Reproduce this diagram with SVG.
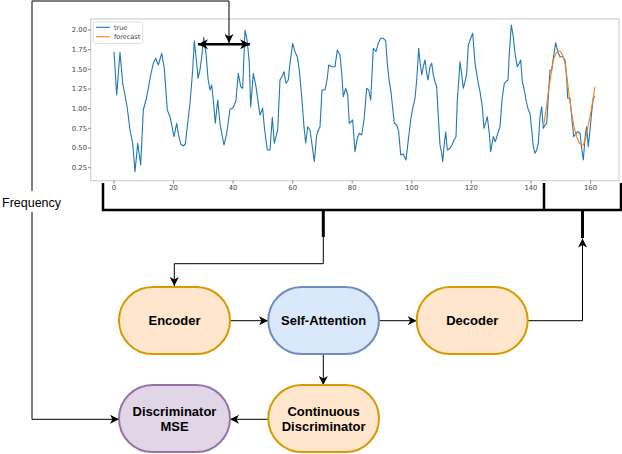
<svg xmlns="http://www.w3.org/2000/svg" width="622" height="454" viewBox="0 0 622 454">
<style>
.tick{font-family:"DejaVu Sans",sans-serif;font-size:6.8px;fill:#444}
.leg{font-family:"DejaVu Sans",sans-serif;font-size:6.5px;fill:#444}
.node{stroke-width:2}
.orange{fill:#ffe6cc;stroke:#d79b00}
.blue{fill:#dae8fc;stroke:#6c8ebf}
.purple{fill:#e1d5e7;stroke:#9673a6}
.lbl{font-family:"Liberation Sans",Arial,sans-serif;font-size:13px;font-weight:bold;fill:#000;text-anchor:middle}
.conn{fill:none;stroke:#000;stroke-width:1}
.brk{fill:none;stroke:#000;stroke-width:2.5}
.tk{stroke:#666;stroke-width:0.8}
</style>
<defs>
<marker id="arr" viewBox="0 0 9 9" markerWidth="9" markerHeight="9" refX="9" refY="4.5" orient="auto" markerUnits="userSpaceOnUse">
<path d="M0,0 L9,4.5 L0,9 L2.5,4.5 z" fill="#000"/>
</marker>
<marker id="arrb" viewBox="0 0 10 10" markerWidth="10" markerHeight="10" refX="10" refY="5" orient="auto-start-reverse" markerUnits="userSpaceOnUse">
<path d="M0,0 L10,5 L0,10 L3,5 z" fill="#000"/>
</marker>
</defs>
<rect width="622" height="454" fill="#fff"/>
<g id="plot">
<rect x="90.7" y="19" width="528.3" height="161.7" fill="#fff" stroke="#c8c8c8" stroke-width="1"/>
<g class="tk">
<line x1="88" y1="30" x2="90.7" y2="30"/><line x1="88" y1="49.67" x2="90.7" y2="49.67"/><line x1="88" y1="69.33" x2="90.7" y2="69.33"/><line x1="88" y1="89" x2="90.7" y2="89"/><line x1="88" y1="108.67" x2="90.7" y2="108.67"/><line x1="88" y1="128.33" x2="90.7" y2="128.33"/><line x1="88" y1="148" x2="90.7" y2="148"/><line x1="88" y1="167.67" x2="90.7" y2="167.67"/>
<line x1="114" y1="180.7" x2="114" y2="183.4"/><line x1="173.6" y1="180.7" x2="173.6" y2="183.4"/><line x1="233.1" y1="180.7" x2="233.1" y2="183.4"/><line x1="292.7" y1="180.7" x2="292.7" y2="183.4"/><line x1="352.2" y1="180.7" x2="352.2" y2="183.4"/><line x1="411.8" y1="180.7" x2="411.8" y2="183.4"/><line x1="471.4" y1="180.7" x2="471.4" y2="183.4"/><line x1="530.9" y1="180.7" x2="530.9" y2="183.4"/><line x1="590.5" y1="180.7" x2="590.5" y2="183.4"/>
</g>
<g class="tick" text-anchor="end">
<text x="87" y="32.4">2.00</text><text x="87" y="52.1">1.75</text><text x="87" y="71.7">1.50</text><text x="87" y="91.4">1.25</text><text x="87" y="111.1">1.00</text><text x="87" y="130.7">0.75</text><text x="87" y="150.4">0.50</text><text x="87" y="170.1">0.25</text>
</g>
<g class="tick" text-anchor="middle">
<text x="114" y="189.8">0</text><text x="173.6" y="189.8">20</text><text x="233.1" y="189.8">40</text><text x="292.7" y="189.8">60</text><text x="352.2" y="189.8">80</text><text x="411.8" y="189.8">100</text><text x="471.4" y="189.8">120</text><text x="530.9" y="189.8">140</text><text x="590.5" y="189.8">160</text>
</g>
<polyline fill="none" stroke="#1f77b4" stroke-width="1.1" stroke-linejoin="round" points="114,51.7 116.7,95 120,52.3 122.7,83.3 125,95 127.3,108.3 130,130 132.7,143.3 135,171.7 137.7,143.3 140.7,165 143.3,110 146,100 148.3,88.3 150.7,75 153.3,63.3 155.7,58.3 158.3,65 161.7,53.3 164.3,68.3 167.3,110 170,116.7 172.7,130 174,136.7 176.7,123.3 178.3,133.3 180.7,144 183.3,146 185.3,144 187.3,126.7 190,103.3 192.7,70 194.3,40.7 196.7,63.3 198,78.3 200,70 201.7,56.7 203.7,37.3 206,53.3 208,78.3 210,90 211.7,85 213.3,100 215.3,123.3 217.7,100 220,123.3 222.3,136.7 224,145 226.7,133.3 230,109.3 232.7,108.3 235,103.3 236,100 238.3,73.3 240.7,86.7 242.7,88.3 245,30 247.3,41.7 249.3,63.3 250.7,106.7 253.3,73.3 256,86.7 258.3,103.3 260,115 262.7,108.3 264.3,126.7 266,140 267.3,150 270,150 272.3,117.3 274.3,143.3 276,136.7 277.7,130 280,80 282.7,75 284,71.7 286,83.3 288.3,80 290,63.3 292.7,43.3 295,51.7 297.3,56.7 299.3,70 301.7,96.7 304,126.7 305.7,143.3 307.7,126.7 310,130 312.3,146.7 314.3,161.7 316.7,135 318.3,130 320,126.7 322,90 325,90 327.3,78.3 328.7,65 331.7,66.7 335,66.7 337.3,50 340,55 341.7,73.3 343.3,96.7 345.7,88.3 347.7,95 349.3,123.3 352.7,120 355,151.7 357.3,138.3 359.3,133.3 361.7,135 364,120 366.7,88.3 368.7,90 370.7,100 373.3,48.3 376,51.7 378.3,43.3 380.7,38.3 383.3,38.3 385.7,40.7 387.3,63.3 389.3,81.7 391,91.7 392.7,108.3 394.3,123.3 396.7,125 398.7,131.7 400.7,155 403.3,154 406,160 408.3,140 410.7,120 412.7,108.3 415,98.3 416.7,80 418.7,48.3 420,61.7 421.7,75 423.3,66.7 425,60 426.7,73.3 428,80 430,66.7 431.7,63.3 433.3,75 435,81.7 436.7,86.7 438.3,116.7 440,145 441.7,153.3 442.7,161.7 444,146.7 445.7,131.7 447.3,150 450,148.3 452,145 454,140 456,136.7 457.3,100 458.7,81.7 460,61.7 462,76.7 463.3,88.3 465,81.7 466.7,73.3 468.3,45 470.7,38.3 472.7,33.3 475,63.3 476.7,73.3 478.3,83.3 480,91.7 482.3,106.7 484,128.3 486,121.7 487.3,116.7 489.3,133.3 490.7,151.7 493.3,136.7 495.3,141.7 497.3,135 500,126.7 502,100 504.3,83.3 506,81.7 508,80 509.3,53.3 511.3,25 513.3,36.7 515,53.3 517.3,66.7 519.3,63.3 520.7,60 522.3,81.7 524.3,90 526,100 528.3,110 530,113.3 531.7,130 533.3,146.7 535,153.3 536.7,150 538.3,143.3 540,116.7 541.7,106.7 543.3,128.3 545,125 546.7,123.3 548.3,96.7 550,70 551.7,70 553.3,58.3 555.7,42.7 557.7,51.7 560,56.7 562.7,56.7 565,60 566.7,78.3 567.7,98.3 570,98.3 571.7,116.7 573.7,136.7 576,133.3 577.7,131.7 580,133.3 581.7,148.3 583.3,160 585.3,135 586.7,126.7 588.3,146.7 590,130 591.7,111.7 593.3,98.3 595,96.7"/>
<polyline fill="none" stroke="#ff7f0e" stroke-width="1.1" stroke-linejoin="round" points="544,123.3 546,110 548.3,91.7 550.7,76.7 553.3,60 556,53.3 558.3,50.7 560.7,51.7 563.3,56.7 565.7,66.7 567.3,80 569.3,96.7 571.7,113.3 574,126.7 576.7,136.7 579.3,143.3 581.7,145 583.3,145 585.7,138.3 588,126.7 590,116.7 592.3,103.3 595,86.7"/>
<g id="legend">
<rect x="93.3" y="22" width="49.4" height="21.3" rx="1.5" fill="#fff" fill-opacity="0.85" stroke="#d4d4d4" stroke-width="0.8"/>
<line x1="96" y1="27.3" x2="110" y2="27.3" stroke="#1f77b4" stroke-width="1.1"/>
<line x1="96" y1="36.7" x2="110" y2="36.7" stroke="#ff7f0e" stroke-width="1.1"/>
<text class="leg" x="114" y="29.6">true</text>
<text class="leg" x="114" y="39">forecast</text>
</g>
</g>
<g id="brackets">
<polyline class="brk" points="103,183 103,210 621,210 621,183"/>
<line class="brk" x1="544" y1="183" x2="544" y2="210"/>
<line x1="323.3" y1="210" x2="323.3" y2="237" stroke="#000" stroke-width="3"/>
<line x1="582.5" y1="210" x2="582.5" y2="238" stroke="#000" stroke-width="3"/>
</g>
<g id="connectors">
<polyline class="conn" points="32,419.3 32,1 229,1 229,43" marker-end="url(#arr)"/>
<polyline class="conn" points="32,419.3 119,419.3" marker-end="url(#arr)"/>
<line x1="198" y1="44.3" x2="250" y2="44.3" stroke="#000" stroke-width="2.5" marker-start="url(#arrb)" marker-end="url(#arrb)"/>
<polyline class="conn" points="323.3,237 323.3,263.7 174.3,263.7 174.3,286" marker-end="url(#arr)"/>
<line class="conn" x1="230" y1="320.7" x2="268" y2="320.7" marker-end="url(#arr)"/>
<line class="conn" x1="379" y1="320.7" x2="416.7" y2="320.7" marker-end="url(#arr)"/>
<line class="conn" x1="323.3" y1="354" x2="323.3" y2="385" marker-end="url(#arr)"/>
<line class="conn" x1="268" y1="419.3" x2="230" y2="419.3" marker-end="url(#arr)"/>
<polyline class="conn" points="527.7,320.7 582.5,320.7 582.5,238.5" marker-end="url(#arr)"/>
</g>
<g id="freq-label">
<rect x="0" y="191" width="64" height="21" fill="#fff"/>
<text x="2" y="207" font-family="Liberation Sans, Arial, sans-serif" font-size="12.5" fill="#000">Frequency</text>
</g>
<g id="node-encoder">
<rect class="node orange" x="119" y="287" width="111" height="67" rx="33.5"/>
<text class="lbl" x="174.5" y="325.3">Encoder</text>
</g>
<g id="node-self-attention">
<rect class="node blue" x="268.3" y="287" width="110.7" height="67" rx="33.5"/>
<text class="lbl" x="323.6" y="325.3">Self-Attention</text>
</g>
<g id="node-decoder">
<rect class="node orange" x="416.7" y="287" width="111" height="67" rx="33.5"/>
<text class="lbl" x="472.2" y="325.3">Decoder</text>
</g>
<g id="node-continuous-discriminator">
<rect class="node orange" x="268.3" y="385" width="110.7" height="67" rx="33.5"/>
<text class="lbl" x="323.6" y="416.3">Continuous</text>
<text class="lbl" x="323.6" y="431.3">Discriminator</text>
</g>
<g id="node-discriminator-mse">
<rect class="node purple" x="119" y="385" width="111" height="67" rx="33.5"/>
<text class="lbl" x="174.5" y="416.3">Discriminator</text>
<text class="lbl" x="174.5" y="431.3">MSE</text>
</g>
</svg>
